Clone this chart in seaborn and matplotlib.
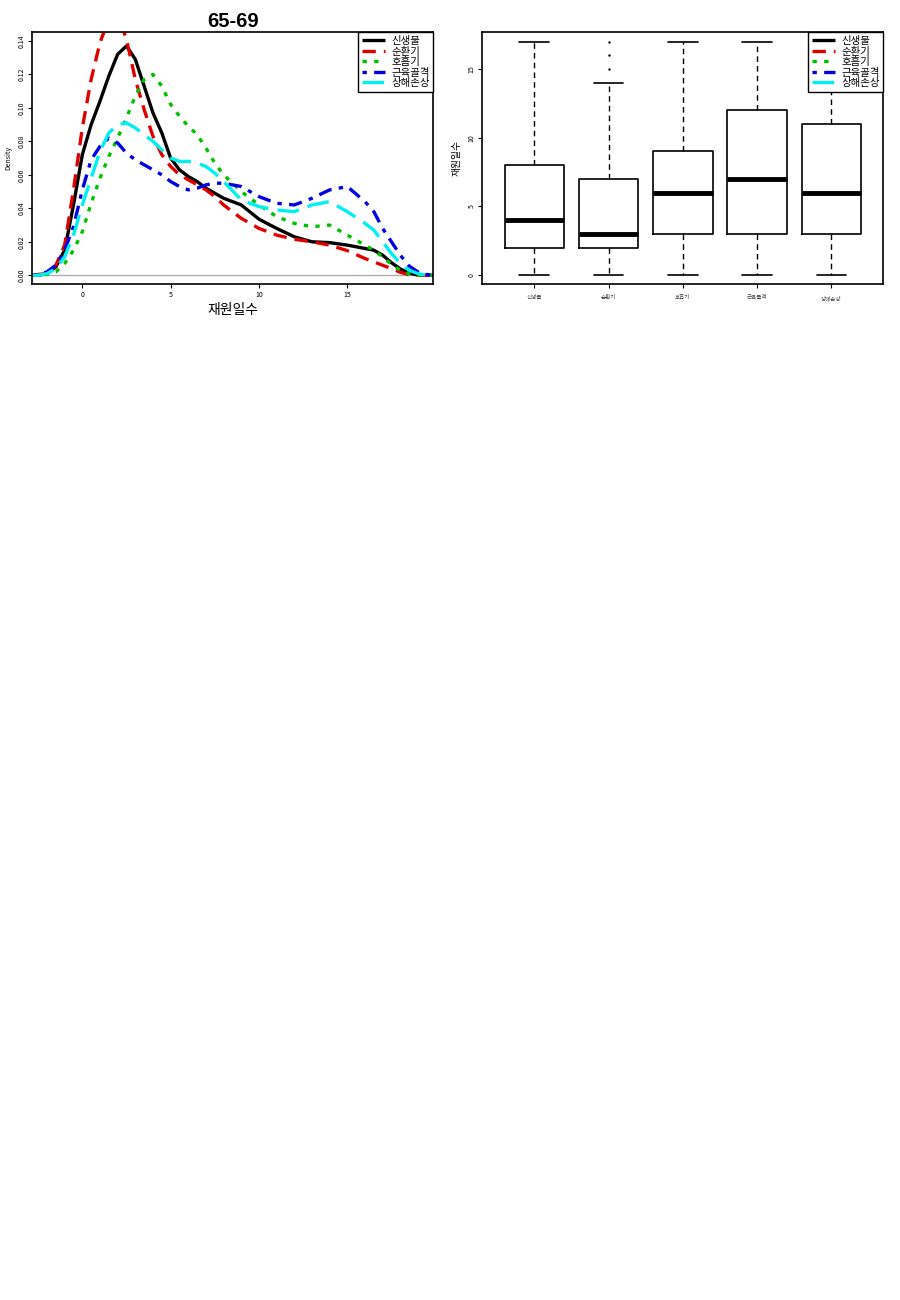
import numpy as np
import pandas as pd
import matplotlib
matplotlib.use("Agg")
import matplotlib.pyplot as plt
import seaborn as sns
from matplotlib.lines import Line2D

# ---------------- data ----------------
title = "65-69"
groups = ["신생물", "순환기", "호흡기", "근육골격", "상해손상"]
xlabel = "재원일수"

x_grid = [-2.8, -2.5, -2, -1.5, -1, -0.5, 0, 0.5, 1, 1.5, 2, 2.5, 3, 3.5, 4, 4.5,
          5, 5.5, 6, 6.5, 7, 7.5, 8, 9, 10, 11, 12, 13, 14, 15, 16, 16.5, 17,
          17.5, 18, 18.5, 19, 19.5, 19.8]

dens_neoplasm = [0.0, 0.0, 0.001, 0.005, 0.015, 0.042, 0.072, 0.090, 0.104, 0.119,
                 0.132, 0.137, 0.129, 0.113, 0.097, 0.085, 0.070, 0.063, 0.059, 0.056,
                 0.052, 0.049, 0.046, 0.042, 0.0335, 0.028, 0.023, 0.020, 0.0195,
                 0.018, 0.016, 0.015, 0.012, 0.0075, 0.0038, 0.0012, 0.0002, 0.0, 0.0]
dens_circulatory = [0.0, 0.0005, 0.001, 0.006, 0.018, 0.051, 0.088, 0.117, 0.139, 0.153,
                    0.156, 0.141, 0.117, 0.099, 0.083, 0.072, 0.065, 0.060, 0.057, 0.054,
                    0.051, 0.047, 0.042, 0.034, 0.028, 0.024, 0.0215, 0.020, 0.018,
                    0.0147, 0.010, 0.008, 0.006, 0.004, 0.0018, 0.0003, 0.0, 0.0, 0.0]
dens_respiratory = [0.0, 0.0, 0.0005, 0.002, 0.007, 0.015, 0.026, 0.043, 0.058, 0.071,
                    0.082, 0.094, 0.107, 0.117, 0.120, 0.113, 0.102, 0.095, 0.089, 0.084,
                    0.076, 0.067, 0.060, 0.050, 0.042, 0.035, 0.031, 0.029, 0.030,
                    0.024, 0.018, 0.015, 0.011, 0.0065, 0.003, 0.0008, 0.0, 0.0, 0.0]
dens_musculo = [0.0, 0.0005, 0.002, 0.006, 0.015, 0.029, 0.051, 0.069, 0.077, 0.082,
                0.079, 0.073, 0.069, 0.066, 0.063, 0.060, 0.056, 0.053, 0.051, 0.052,
                0.054, 0.055, 0.055, 0.053, 0.047, 0.043, 0.042, 0.046, 0.051,
                0.053, 0.044, 0.038, 0.028, 0.020, 0.012, 0.0055, 0.002, 0.0005, 0.0]
dens_injury = [0.0, 0.0, 0.001, 0.004, 0.011, 0.024, 0.042, 0.058, 0.074, 0.085,
               0.090, 0.091, 0.088, 0.084, 0.080, 0.075, 0.070, 0.068, 0.068, 0.067,
               0.065, 0.061, 0.056, 0.045, 0.041, 0.039, 0.038, 0.042, 0.044,
               0.038, 0.031, 0.027, 0.020, 0.013, 0.007, 0.003, 0.001, 0.0, 0.0]

box_whislo = [0, 0, 0, 0, 0]
box_q1 = [2, 2, 3, 3, 3]
box_med = [4, 3, 6, 7, 6]
box_q3 = [8, 7, 9, 12, 11]
box_whishi = [17, 14, 17, 17, 17]
box_fliers = [[], [15, 16, 17], [], [], []]

# ---------------- styles ----------------
colors = ["#000000", "#E00000", "#00C000", "#0000E0", "#00F0F0"]
dash_list = [None, (4, 2.4), (1.3, 2.2), (1.3, 2.2, 4, 2.2), (6.5, 2.8)]
LW = 2.4

sns.set_theme(style="white")
plt.rcParams["font.family"] = ["Noto Sans CJK KR", "DejaVu Sans"]
plt.rcParams["text.color"] = "black"
plt.rcParams["axes.labelcolor"] = "black"

fig = plt.figure(figsize=(9, 13), dpi=100)
ax1 = fig.add_axes([0.0359, 0.7813, 0.4456, 0.1938])
ax2 = fig.add_axes([0.5359, 0.7813, 0.4456, 0.1938])

# ---------------- density panel ----------------
series = [dens_neoplasm, dens_circulatory, dens_respiratory, dens_musculo, dens_injury]
df = pd.concat([pd.DataFrame({"x": x_grid, "density": s, "group": g})
                for g, s in zip(groups, series)], ignore_index=True)

ax1.axhline(0, color="#b0b0b0", lw=1.0, zorder=1)
n_before = len(ax1.get_lines())
sns.lineplot(data=df, x="x", y="density", hue="group",
             hue_order=groups, palette=dict(zip(groups, colors)),
             linewidth=LW, sort=False, estimator=None, legend=False, ax=ax1)
for ln, d in zip(ax1.get_lines()[n_before:], dash_list):
    ln.set_linestyle("-" if d is None else (0, d))
    ln.set_dash_capstyle("butt")
    ln.set_solid_capstyle("round")
    ln.set_solid_joinstyle("round")
    ln.set_dash_joinstyle("round")

ax1.set_xlim(-2.83, 19.87)
ax1.set_ylim(-0.0054, 0.1451)
ax1.set_xticks([0, 5, 10, 15])
ax1.set_yticks(np.arange(0, 0.141, 0.02))
ax1.set_yticklabels([f"{v:.2f}" for v in np.arange(0, 0.141, 0.02)])
ax1.set_xlabel(xlabel, fontsize=10, labelpad=3)
ax1.set_ylabel("Density", fontsize=5, labelpad=4)
ax1.set_title(title, fontsize=14.5, fontweight="bold", family=["Liberation Sans"],
              pad=4, color="black")

handles = [Line2D([0], [0], color=c, lw=LW,
                  linestyle=("-" if d is None else (0, d)),
                  dash_capstyle="butt", solid_capstyle="butt")
           for c, d in zip(colors, dash_list)]

def style_axes(ax):
    for sp in ax.spines.values():
        sp.set_visible(True)
        sp.set_color("black")
        sp.set_linewidth(1.2)
    ax.tick_params(axis="both", which="both", direction="out", length=3, width=0.8,
                   labelsize=5, colors="black", bottom=True, left=True, pad=2)
    ax.tick_params(axis="y", labelrotation=90)
    for lab in ax.get_yticklabels():
        lab.set_va("center")
    leg = ax.legend(handles, groups, loc="upper right", fontsize=7.5, frameon=True,
                    fancybox=False, framealpha=1, edgecolor="black",
                    borderaxespad=0, borderpad=0.35, labelspacing=0.05,
                    handlelength=2.2, handletextpad=0.6)
    leg.get_frame().set_linewidth(1.0)
    leg.set_zorder(10)

style_axes(ax1)

# ---------------- box panel ----------------
stats = [dict(label=g, whislo=lo, q1=a, med=m, q3=b, whishi=hi, fliers=f)
         for g, lo, a, m, b, hi, f in zip(groups, box_whislo, box_q1, box_med,
                                          box_q3, box_whishi, box_fliers)]
ax2.bxp(stats, positions=range(1, len(groups) + 1), widths=0.8, capwidths=0.4,
        showfliers=True,
        boxprops=dict(color="black", linewidth=1.2),
        medianprops=dict(color="black", linewidth=3.5, solid_capstyle="butt"),
        whiskerprops=dict(color="black", linewidth=1.0, linestyle=(0, (4, 3))),
        capprops=dict(color="black", linewidth=1.2),
        flierprops=dict(marker=".", markersize=1.5, markerfacecolor="black",
                        markeredgecolor="black", linestyle="none"))
ax2.set_xlim(0.3, 5.7)
ax2.set_ylim(-0.68, 17.68)
ax2.set_yticks([0, 5, 10, 15])
ax2.set_xticks(range(1, len(groups) + 1))
ax2.set_xticklabels(groups)
ax2.set_ylabel(xlabel, fontsize=7, labelpad=4)
style_axes(ax2)
ax2.tick_params(axis="x", labelsize=4, pad=5, labelcolor="#444444")

fig.savefig("out.png", dpi=100)
